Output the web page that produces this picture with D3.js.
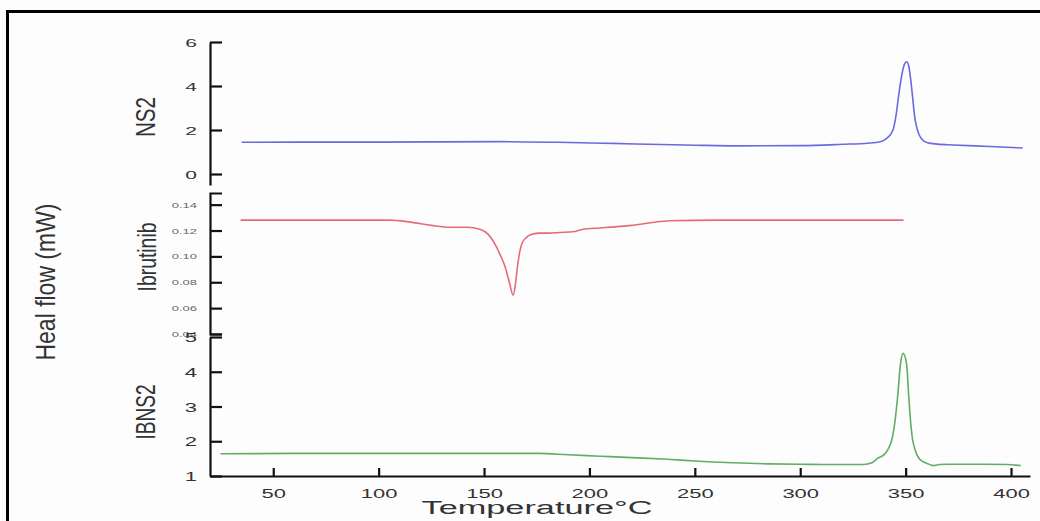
<!doctype html>
<html>
<head>
    <script src="https://d3js.org/d3.v7.min.js"></script>
    <style>
        body { margin: 0; background: #fff; }
        text { font-family: "Liberation Sans", Arial, sans-serif; }
    </style>
</head>
<body>
    <script>
        // DSC traces
        let ns2Temp = [35, 60, 100, 130, 158, 185, 211, 234, 250, 270, 300, 320, 332, 338, 341, 344, 345.5, 346.6, 348, 349.3, 350.4, 351.5, 352.4, 353.3, 354.3, 355.6, 357.5, 360.4, 365, 372.7, 390, 405.5];
        let ns2Flow = [1.44, 1.45, 1.45, 1.46, 1.47, 1.44, 1.39, 1.34, 1.31, 1.28, 1.29, 1.35, 1.40, 1.47, 1.62, 2.0, 2.7, 3.5, 4.4, 4.95, 5.1, 4.9, 4.3, 3.5, 2.6, 2.0, 1.6, 1.42, 1.36, 1.32, 1.25, 1.18];

        let ibrTemp = [34.5, 60, 80, 105, 115, 125, 134, 142, 148, 152, 156, 158, 160, 162, 163.8, 165, 165.7, 167, 168, 170, 172, 176, 181, 186, 192, 197, 205, 210, 220, 229, 238, 260, 300, 349];
        let ibrFlow = [0.128, 0.128, 0.128, 0.128, 0.1265, 0.124, 0.1225, 0.1225, 0.121, 0.117, 0.107, 0.100, 0.092, 0.080, 0.070, 0.080, 0.090, 0.104, 0.110, 0.1145, 0.1167, 0.118, 0.118, 0.1185, 0.119, 0.121, 0.122, 0.1226, 0.124, 0.126, 0.1276, 0.128, 0.128, 0.128];

        let ibnsTemp = [25, 60, 100, 140, 176, 190, 205, 220, 237, 250, 268, 285, 300, 315, 330, 334, 337, 339.5, 341.5, 343.8, 345, 346.2, 347.6, 348.8, 350.4, 351.5, 352.3, 353.1, 354.5, 356.3, 358, 360.2, 363.3, 366, 369.7, 388.7, 398, 404.6];
        let ibnsFlow = [1.64, 1.65, 1.65, 1.65, 1.65, 1.61, 1.57, 1.53, 1.48, 1.43, 1.38, 1.35, 1.34, 1.33, 1.33, 1.38, 1.52, 1.60, 1.75, 2.13, 2.6, 3.28, 4.24, 4.53, 4.24, 3.28, 2.6, 2.13, 1.75, 1.51, 1.42, 1.36, 1.30, 1.33, 1.34, 1.34, 1.33, 1.30];

        let xTicks = [50, 100, 150, 200, 250, 300, 350, 400];
        let xMinor = [25, 75, 125, 175, 225, 275, 325, 375];
        let ns2Ticks = [0, 2, 4, 6];
        let ns2Minor = [1, 3, 5];
        let ibrTicks = [0.04, 0.06, 0.08, 0.10, 0.12, 0.14];
        let ibrMinor = [0.05, 0.07, 0.09, 0.11, 0.13];
        let ibnsTicks = [1, 2, 3, 4, 5];
        let ibnsMinor = [1.5, 2.5, 3.5, 4.5];

        let svg = d3.select("body").append("svg")
                    .attr("width", 1040).attr("height", 521);
        svg.append("rect").attr("width", 1040).attr("height", 521).attr("fill", "#fdfdfd");

        // frame (top and left edges visible)
        svg.append("path").attr("d", "M7.5,521V11.5H1040")
           .attr("fill", "none").attr("stroke", "#000").attr("stroke-width", 3);

        let x = d3.scaleLinear().domain([20, 409]).range([210, 1030]);
        let yNs2 = d3.scaleLinear().domain([-0.5, 6]).range([185, 42]);
        let yIbr = d3.scaleLinear().domain([0.04, 0.149]).range([334, 193]);
        let yIbns = d3.scaleLinear().domain([1, 5]).range([476, 337]);

        function styleAxis(g) {
            g.selectAll("path, line").attr("stroke", "#111").attr("stroke-width", 2.2);
        }

        function yAxis(scale, ticks, minor, fmt, size, sy, color, outer) {
            let g = svg.append("g").attr("transform", "translate(210,0)");
            g.call(d3.axisLeft(scale).tickValues(minor).tickSize(-7).tickSizeOuter(0).tickFormat(""));
            g.call(d3.axisLeft(scale).tickValues(ticks).tickSize(-12).tickSizeOuter(outer).tickPadding(13).tickFormat(fmt));
            styleAxis(g);
            g.selectAll("text")
             .attr("x", 0).attr("dy", null)
             .attr("transform", "translate(-13," + (size * 0.716 * sy / 2) + ") scale(1," + sy + ")")
             .attr("font-size", size).attr("fill", color)
             .attr("font-family", "Liberation Sans, Arial, sans-serif");
        }

        yAxis(yNs2, ns2Ticks, ns2Minor, d3.format("d"), 21, 0.55, "#333", 0);
        yAxis(yIbr, ibrTicks, ibrMinor, d3.format(".2f"), 13, 0.55, "#666", -12);
        yAxis(yIbns, ibnsTicks, ibnsMinor, d3.format("d"), 22, 0.6, "#333", 0);

        let gx = svg.append("g").attr("transform", "translate(0,476)");
        gx.call(d3.axisBottom(x).tickValues(xMinor).tickSize(-4).tickSizeOuter(0).tickFormat(""));
        gx.call(d3.axisBottom(x).tickValues(xTicks).tickSize(-8).tickSizeOuter(0).tickFormat(d3.format("d")));
        styleAxis(gx);
        gx.selectAll("text")
          .attr("y", 0).attr("dy", null)
          .attr("transform", "translate(0,22) scale(1,0.6)")
          .attr("font-size", 22).attr("fill", "#333")
          .attr("font-family", "Liberation Sans, Arial, sans-serif");

        function trace(temps, vals, scale, color) {
            let pts = temps.map(function(t, i) { return [t, vals[i]]; });
            let line = d3.line()
                         .x(function(d) { return x(d[0]); })
                         .y(function(d) { return scale(d[1]); })
                         .curve(d3.curveMonotoneX);
            svg.append("path").datum(pts)
               .attr("d", line)
               .attr("fill", "none")
               .attr("stroke", color)
               .attr("stroke-width", 1.6);
        }

        trace(ns2Temp, ns2Flow, yNs2, "#6a6adf");
        trace(ibrTemp, ibrFlow, yIbr, "#e66b78");
        trace(ibnsTemp, ibnsFlow, yIbns, "#62ad62");

        // rotated titles, squeezed along their length like the source image
        function vLabel(txt, cx, cy, size, len) {
            svg.append("text")
               .attr("transform", "translate(" + (cx + size * 0.36) + "," + cy + ") rotate(-90)")
               .attr("text-anchor", "middle")
               .attr("font-size", size)
               .attr("fill", "#333")
               .attr("textLength", len)
               .attr("lengthAdjust", "spacingAndGlyphs")
               .text(txt);
        }
        vLabel("Heal flow (mW)", 45, 282, 28, 157);
        vLabel("NS2", 145, 117, 27, 40);
        vLabel("Ibrutinib", 147, 257, 26, 69);
        vLabel("IBNS2", 145, 412, 27, 55);

        svg.append("text")
           .attr("transform", "translate(537,514) scale(1,0.6)")
           .attr("text-anchor", "middle")
           .attr("font-size", 32)
           .attr("fill", "#333")
           .attr("textLength", 231)
           .attr("lengthAdjust", "spacingAndGlyphs")
           .text("Temperature°C");
    </script>
</body>
</html>
